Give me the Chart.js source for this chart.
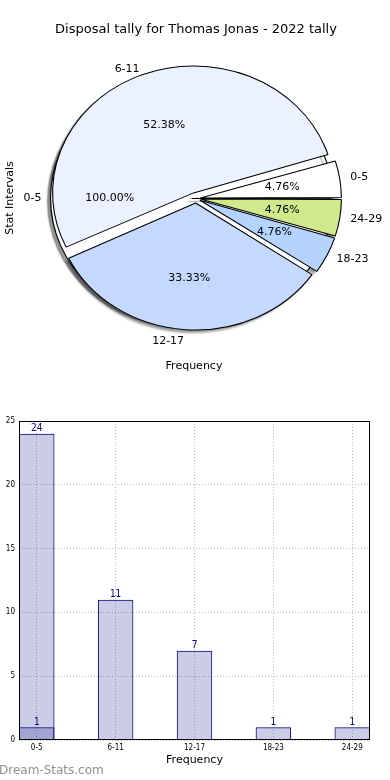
<!DOCTYPE html>
<html>
<head>
<meta charset="utf-8">
<title>Disposal tally</title>
<script src="https://cdn.jsdelivr.net/npm/chart.js@4.4.1/dist/chart.umd.min.js"></script>
<style>
  html, body { margin: 0; padding: 0; background: #fff; }
  #page { position: relative; width: 390px; height: 780px; overflow: hidden; }
  .layer { position: absolute; left: 0; width: 390px; }
  #pieBox { top: 0; height: 390px; }
  #barBox { top: 400px; height: 380px; }
  canvas { position: absolute; left: 0; top: 0; }
</style>
</head>
<body>
<div id="page">
  <div class="layer" id="pieBox">
    <canvas id="pieShadow" width="390" height="390"></canvas>
    <canvas id="pieBase" width="390" height="390"></canvas>
    <canvas id="pieTop" width="390" height="390"></canvas>
  </div>
  <div class="layer" id="barBox">
    <canvas id="barChart" width="390" height="380"></canvas>
  </div>
</div>
<script>
// stat intervals and the two tallies
const intervals = ['0-5', '6-11', '12-17', '18-23', '24-29'];
const firstIntervals = ['0-5'];
const firstTally = [24];
const secondTally = [1, 11, 7, 1, 1];
const yTicks = [0, 5, 10, 15, 20, 25];

const titleText = 'Disposal tally for Thomas Jonas - 2022 tally';
const sliceColors = ['#ffffff', '#ebf1ff', '#c5d8ff', '#b4d4ff', '#cfe98b'];
// chart.js v4 divides arc offset by 4 when drawing
const sliceOffsets = [16, 24, 18, 16, 16];
const stretchX = 1.11; // matplotlib pie without equal aspect -> ellipse
const shadowShift = [-3, 3];

Chart.defaults.font.family = '"DejaVu Sans", sans-serif';
Chart.defaults.color = '#000';

const pieLayers = [];

const pieDecor = {
  id: 'pieDecor',
  afterDatasetsUpdate(chart) {
    // keep radius constant for exploded slices
    chart.getDatasetMeta(0).data.forEach(arc => {
      const circ = arc.endAngle - arc.startAngle;
      const off = (arc.options.offset || 0) / 4;
      arc.outerRadius -= off * (1 - Math.sin(Math.min(Math.PI, circ)));
    });
  },
  beforeDatasetsDraw(chart, args, opts) {
    const ctx = chart.ctx;
    const cx = chart.getDatasetMeta(0).data[0].x;
    ctx.save();
    if (opts.shift) {
      ctx.translate(shadowShift[0], shadowShift[1]);
      ctx.filter = 'blur(1px)';
    }
    ctx.translate(cx, 0);
    ctx.scale(stretchX, 1);
    ctx.translate(-cx, 0);
    if (opts.shadow) {
      ctx.shadowColor = 'rgba(0, 0, 0, 0.4)';
      ctx.shadowOffsetX = shadowShift[0];
      ctx.shadowOffsetY = shadowShift[1];
      ctx.shadowBlur = 1.5;
    }
  },
  afterDatasetsDraw(chart) {
    chart.ctx.restore();
  },
  afterDraw(chart, args, opts) {
    if (!opts.labels) return;
    const ctx = chart.ctx;
    const layers = pieLayers.includes(chart) ? pieLayers : pieLayers.concat(chart);
    ctx.save();
    ctx.font = '11px "DejaVu Sans"';
    ctx.fillStyle = '#000';
    ctx.textBaseline = 'middle';
    layers.filter(c => c.options.plugins.pieDecor.named).forEach(c => {
      const values = c.data.datasets[0].data;
      const total = values.reduce((a, b) => a + b, 0);
      c.getDatasetMeta(0).data.forEach((arc, i) => {
        const mid = (arc.startAngle + arc.endAngle) / 2;
        const off = (arc.options.offset || 0) / 4;
        const r = arc.outerRadius;
        const cos = Math.cos(mid), sin = Math.sin(mid);
        const at = k => [arc.x + (off + k * r) * cos * stretchX, arc.y + (off + k * r) * sin];
        const [lx, ly] = at(1.1);
        ctx.textAlign = cos > 0 ? 'left' : 'right';
        ctx.fillText(c.data.labels[i], lx, ly);
        const [px, py] = at(0.6);
        ctx.textAlign = 'center';
        ctx.fillText((values[i] / total * 100).toFixed(2) + '%', px, py);
      });
    });
    // axis labels of the pie figure
    ctx.textAlign = 'center';
    ctx.fillText('Frequency', 194, 366);
    ctx.translate(10, 198);
    ctx.rotate(-Math.PI / 2);
    ctx.fillText('Stat Intervals', 0, 0);
    ctx.restore();
  }
};

function pieOptions(titleColor, decor) {
  return {
    responsive: false,
    animation: false,
    radius: 127,
    rotation: 90,
    layout: { padding: { left: 2, right: 0, top: 0, bottom: 30.6 } },
    plugins: {
      legend: { display: false },
      tooltip: { enabled: false },
      title: {
        display: true,
        text: titleText,
        color: titleColor,
        font: { size: 13, weight: 'normal' },
        padding: { top: 22, bottom: 0 }
      },
      pieDecor: decor
    }
  };
}

// matplotlib goes counter-clockwise, chart.js clockwise -> reverse order
const rev = arr => arr.slice().reverse();

// shadow of the second tally, sits under everything
new Chart(document.getElementById('pieShadow'), {
  type: 'pie',
  data: {
    labels: rev(intervals),
    datasets: [{
      data: rev(secondTally),
      backgroundColor: 'rgba(0, 0, 0, 0.4)',
      borderWidth: 0,
      offset: rev(sliceOffsets)
    }]
  },
  options: pieOptions('rgba(0,0,0,0)', { shift: true }),
  plugins: [pieDecor]
});

// first tally (100% slice)
pieLayers.push(new Chart(document.getElementById('pieBase'), {
  type: 'pie',
  data: {
    labels: firstIntervals,
    datasets: [{
      data: firstTally,
      backgroundColor: sliceColors[0],
      borderColor: '#000',
      borderWidth: 1,
      offset: sliceOffsets[0]
    }]
  },
  options: pieOptions('rgba(0,0,0,0)', { shadow: true, named: true }),
  plugins: [pieDecor]
}));

// second tally on top
pieLayers.push(new Chart(document.getElementById('pieTop'), {
  type: 'pie',
  data: {
    labels: rev(intervals),
    datasets: [{
      data: rev(secondTally),
      backgroundColor: rev(sliceColors),
      borderColor: '#000',
      borderWidth: 1,
      offset: rev(sliceOffsets)
    }]
  },
  options: pieOptions('#000', { labels: true, named: true }),
  plugins: [pieDecor]
}));

// Bar chart
const barDecor = {
  id: 'barDecor',
  afterDatasetsDraw(chart) {
    const { ctx, chartArea: a } = chart;
    ctx.save();
    ctx.font = '10px "DejaVu Sans Condensed"';
    ctx.fillStyle = '#000080';
    ctx.textAlign = 'center';
    ctx.textBaseline = 'bottom';
    chart.data.datasets.forEach((ds, d) => {
      chart.getDatasetMeta(d).data.forEach((bar, i) => {
        ctx.fillText(ds.data[i].y, bar.x, bar.y);
      });
    });
    ctx.strokeStyle = '#000';
    ctx.lineWidth = 1;
    ctx.strokeRect(a.left + 0.5, a.top + 0.5, a.width - 1, a.height - 1);
    ctx.restore();
  },
  afterDraw(chart) {
    const ctx = chart.ctx;
    ctx.save();
    ctx.font = '12px "DejaVu Sans"';
    ctx.fillStyle = '#909090';
    ctx.textBaseline = 'middle';
    ctx.fillText('Dream-Stats.com', -1, 371);
    ctx.restore();
  }
};

const barStyle = {
  backgroundColor: 'rgba(0, 0, 128, 0.2)',
  borderColor: '#000080',
  borderWidth: 1,
  grouped: false,
  barPercentage: 0.45,
  categoryPercentage: 1
};

new Chart(document.getElementById('barChart'), {
  type: 'bar',
  data: {
    datasets: [
      { label: 'first', data: firstTally.map((v, i) => ({ x: i, y: v })), ...barStyle },
      { label: 'second', data: secondTally.map((v, i) => ({ x: i, y: v })), ...barStyle }
    ]
  },
  options: {
    responsive: false,
    animation: false,
    layout: { padding: { top: 21, right: 20, left: 0, bottom: 0 } },
    plugins: {
      legend: { display: false },
      tooltip: { enabled: false }
    },
    scales: {
      x: {
        type: 'linear',
        offset: false,
        min: -0.225,
        max: 4.225,
        afterBuildTicks: s => { s.ticks = intervals.map((_, i) => ({ value: i })); },
        afterFit: s => { s.height = 40; },
        ticks: {
          callback: v => intervals[v],
          autoSkip: false,
          maxRotation: 0,
          padding: 3,
          color: '#000',
          font: { size: 8, family: '"DejaVu Sans Condensed", sans-serif' }
        },
        grid: { color: '#bcbcbc', drawTicks: false, offset: false },
        border: { display: false, dash: [1, 2] },
        title: {
          display: true,
          text: 'Frequency',
          color: '#000',
          font: { size: 11 },
          padding: { top: 0, bottom: 13 }
        }
      },
      y: {
        min: 0,
        max: 25,
        afterBuildTicks: s => { s.ticks = yTicks.map(v => ({ value: v })); },
        afterFit: s => { s.width = 19; },
        ticks: {
          padding: 4,
          color: '#000',
          font: { size: 8, family: '"DejaVu Sans Condensed", sans-serif' }
        },
        grid: { color: '#bcbcbc', drawTicks: false },
        border: { display: false, dash: [1, 2] }
      }
    }
  },
  plugins: [barDecor]
});
</script>
</body>
</html>
